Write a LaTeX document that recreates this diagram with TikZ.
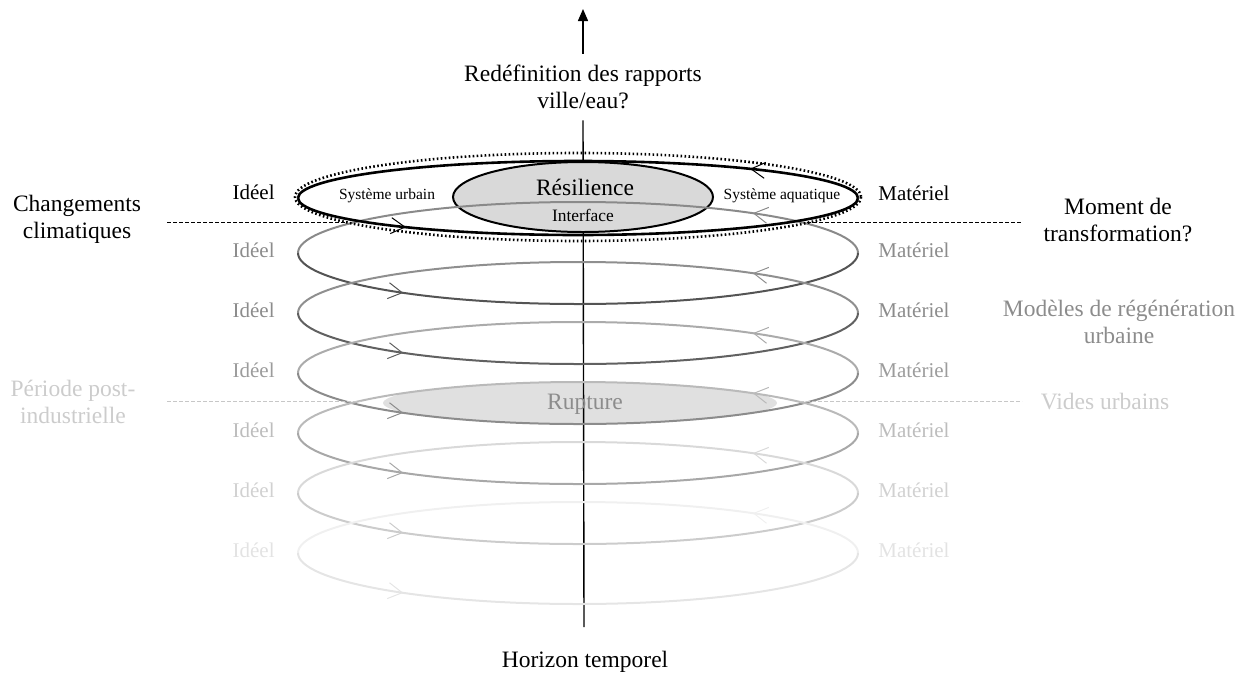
\documentclass[tikz,border=0pt]{standalone}
\usepackage{fontspec}
\setmainfont{Liberation Serif}
\usepackage{xcolor}
\usetikzlibrary{arrows.meta,decorations.markings}

\begin{document}
\begin{tikzpicture}[x=0.5pt, y=-0.5pt,
  bigtext/.style={font=\fontsize{11.75}{13.5}\selectfont, align=center, inner sep=0pt},
  rowtext/.style={font=\fontsize{10.5}{12}\selectfont, inner sep=0pt},
  smalltext/.style={font=\fontsize{7.75}{9}\selectfont, inner sep=0pt},
  ring/.style={line width=1pt, postaction={decorate},
    decoration={markings, mark=at position 0.2 with {\arrow{Straight Barb[length=7pt,width=8pt,line width=0.5pt]}}}},
  sepline/.style={line width=0.5pt, dash pattern=on 2pt off 1pt}]
  \useasboundingbox (0,0) rectangle (1247,675);

  % rupture
  \fill[black!12] (580,403) ellipse [x radius=197, y radius=21];

  % time axis
  \node[bigtext, inner sep=5.5pt] (redef) at (583,87) {Redéfinition des rapports\\ville/eau?};
  \node[bigtext] (horizon) at (585,662) {Horizon temporel};
  \coordinate (axtop) at (583,9);
  \coordinate (axbot) at (584,627);
  \draw[line width=0.7pt, -{Triangle[length=6pt,width=5pt]}] (redef.north) -- (axtop);
  \draw[line width=0.7pt] (redef.south) -- (axbot);

  % resilience
  \filldraw[fill=black!15, line width=1pt] (583,197) ellipse [x radius=130, y radius=35];

  % rings
  \foreach \cy/\ctop/\cbot/\ctxt [count=\k] in {253/46/67/45, 313/44/62/45, 373/33/45/39, 433/27/34/26, 493/15/20/18, 553/6/10/11} {
    \draw[ring, draw=black!\ctop] (858,\cy) arc [start angle=0, end angle=-180, x radius=280, y radius=51];
    \draw[ring, draw=black!\cbot] (298,\cy) arc [start angle=180, end angle=0, x radius=280, y radius=51];
    \node[rowtext, text=black!\ctxt, anchor=east] (ideel\k) at (275,\cy-3) {Idéel};
    \node[rowtext, text=black!\ctxt, anchor=west] (mat\k) at (878,\cy-3) {Matériel};
  }

  % present
  \draw[ring, line width=1.3pt] (858,198) arc [start angle=0, end angle=-180, x radius=280, y radius=37];
  \draw[ring, line width=1.3pt] (298,198) arc [start angle=180, end angle=0, x radius=280, y radius=37];
  \draw[line width=1.3pt, dash pattern=on 0.8pt off 1.2pt] (578,197) ellipse [x radius=283, y radius=44];
  \node[rowtext, anchor=east] (ideel0) at (275,192) {Idéel};
  \node[rowtext, anchor=west] (mat0) at (878,193) {Matériel};

  \node[smalltext] (urbain) at (387,196) {Système urbain};
  \node[smalltext] (aqua) at (782,196) {Système aquatique};
  \node[bigtext] (resil) at (585,187) {Résilience};
  \node[font=\fontsize{8.7}{10}\selectfont, inner sep=0pt] (interf) at (583,215) {Interface};
  \node[bigtext, text=black!45] (rupt) at (585,404) {Rupture};

  % side labels
  \node[bigtext] (climat) at (77,219) {Changements\\climatiques};
  \node[bigtext, text=black!20] (postind) at (73,402) {Période post-\\industrielle};
  \node[bigtext] (moment) at (1118,220) {Moment de\\transformation?};
  \node[bigtext, text=black!45] (regen) at (1119,322) {Modèles de régénération\\urbaine};
  \node[bigtext, text=black!20] (vides) at (1105,402) {Vides urbains};

  \draw[sepline] (167,222) -- (347,222);
  \draw[sepline] (807,222) -- (1022,222);
  \draw[sepline, black!22, line width=0.4pt] (167,401) -- (362,401);
  \draw[sepline, black!22, line width=0.4pt] (800,401) -- (1022,401);
\end{tikzpicture}
\end{document}
